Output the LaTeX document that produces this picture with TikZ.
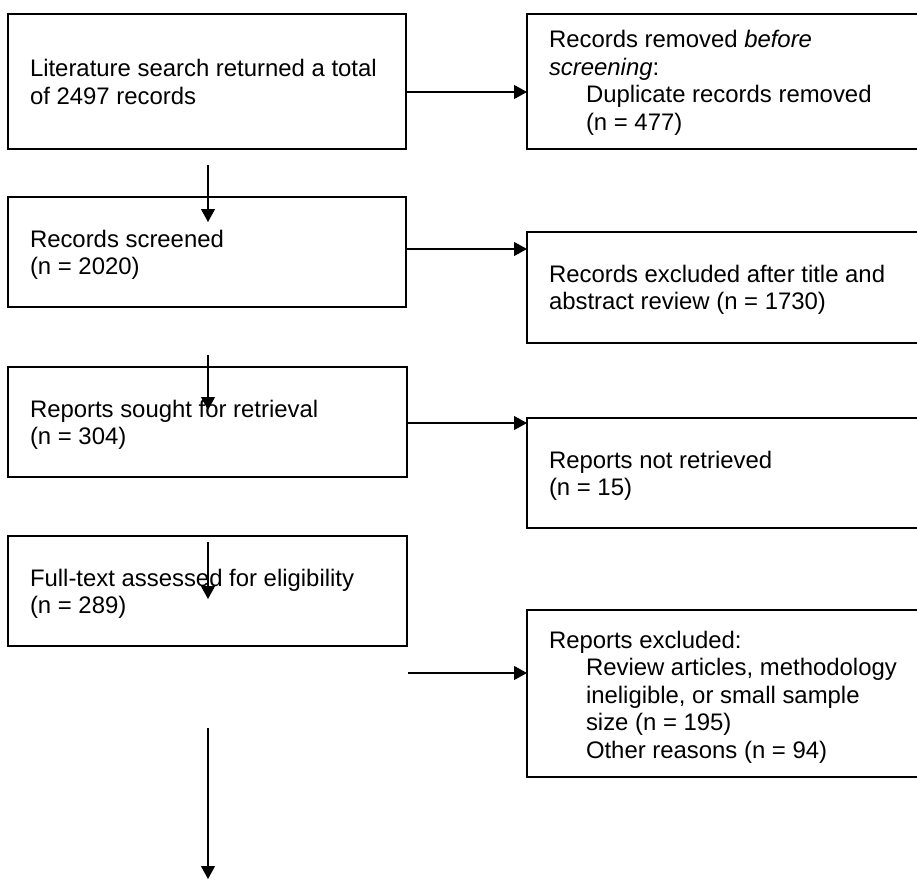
\documentclass[tikz,border=0pt]{standalone}
\usepackage{fontspec}
\setmainfont{Liberation Sans}
\usetikzlibrary{arrows.meta}
\begin{document}
\begin{tikzpicture}[x=1pt,y=-1pt,
  box/.style={draw, line width=2.6pt, rectangle, inner sep=0pt, outer sep=0pt, anchor=north west},
  txt/.style={anchor=base west, inner sep=0pt, outer sep=0pt, font=\fontsize{23.9}{27.5}\selectfont},
  arr/.style={line width=1.1pt, -{Triangle[length=13pt,width=14pt]}}]
\useasboundingbox (0,0) rectangle (917,880);
\clip (0,0) rectangle (917,880);
% left column
\node[box, minimum width=398pt, minimum height=135pt] (b1) at (8,14) {};
\node[box, minimum width=398pt, minimum height=110pt] (b2) at (8,197) {};
\node[box, minimum width=399pt, minimum height=110pt] (b3) at (8,367) {};
\node[box, minimum width=399pt, minimum height=110pt] (b4) at (8,536) {};
% right column
\node[box, minimum width=410pt, minimum height=135pt] (r1) at (527,14) {};
\node[box, minimum width=410pt, minimum height=111pt] (r2) at (527,232) {};
\node[box, minimum width=410pt, minimum height=110pt] (r3) at (527,418) {};
\node[box, minimum width=410pt, minimum height=167pt] (r4) at (527,610) {};
% texts
\node[txt] (t1) at (30,77) {\parbox[t]{370pt}{\raggedright Literature search returned a total\\of 2497 records}};
\node[txt] (t2) at (30,247) {\parbox[t]{370pt}{\raggedright Records screened\\(n = 2020)}};
\node[txt] (t3) at (30,417) {\parbox[t]{370pt}{\raggedright Reports sought for retrieval\\(n = 304)}};
\node[txt] (t4) at (30,586) {\parbox[t]{370pt}{\raggedright Full-text assessed for eligibility\\(n = 289)}};
\node[txt] (u1) at (549,48) {\parbox[t]{360pt}{\raggedright Records removed \textit{before}\\\textit{screening}:\\\hspace*{37pt}Duplicate records removed\\\hspace*{37pt}(n = 477)}};
\node[txt] (u2) at (549,282) {\parbox[t]{360pt}{\raggedright Records excluded after title and\\abstract review (n = 1730)}};
\node[txt] (u3) at (549,468) {\parbox[t]{360pt}{\raggedright Reports not retrieved\\(n = 15)}};
\node[txt] (u4) at (549,648) {\parbox[t]{360pt}{\raggedright Reports excluded:\\\hspace*{37pt}Review articles, methodology\\\hspace*{37pt}ineligible, or small sample\\\hspace*{37pt}size (n = 195)\\\hspace*{37pt}Other reasons (n = 94)}};
% horizontal arrows
\draw[arr] (b1.east |- 0,92) -- (r1.west |- 0,92);
\draw[arr] (b2.east |- 0,249) -- (r2.west |- 0,249);
\draw[arr] (b3.east |- 0,423) -- (r3.west |- 0,423);
\coordinate (a4) at (408,673);
\draw[arr] (a4) -- (r4.west |- a4);
% vertical arrows
\coordinate (d1s) at (208,165); \coordinate (d1e) at (208,222);
\coordinate (d2s) at (208,355); \coordinate (d2e) at (208,410);
\coordinate (d3s) at (208,542); \coordinate (d3e) at (208,599);
\coordinate (d4s) at (208,728); \coordinate (d4e) at (208,879);
\draw[arr] (d1s) -- (d1e);
\draw[arr] (d2s) -- (d2e);
\draw[arr] (d3s) -- (d3e);
\draw[arr] (d4s) -- (d4e);
\end{tikzpicture}
\end{document}
